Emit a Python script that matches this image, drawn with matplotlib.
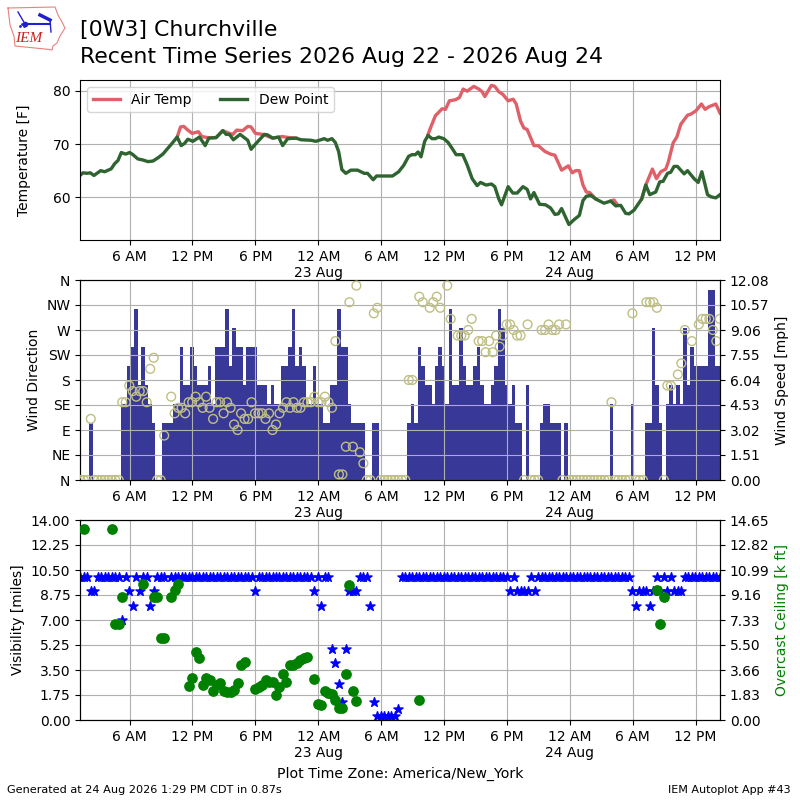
import datetime
import numpy as np
import matplotlib
matplotlib.use("Agg")
import matplotlib.pyplot as plt
import matplotlib.dates as mdates
from matplotlib.ticker import FuncFormatter

n = np.nan
midnight = datetime.datetime(2026, 8, 22)

# temperature, read at hours after 00:00 on 22 Aug
dew_hours = [1.27, 1.56, 1.94, 2.25, 2.60, 3.24, 3.62, 4.25, 4.57, 4.89, 5.21, 5.62, 6.0, 6.32, 6.79, 7.27,
             7.75, 8.22, 8.70, 9.17, 9.65, 10.13, 10.54, 10.92, 11.24, 11.56, 12.03, 12.67, 13.21, 13.56, 14.25,
             14.89, 15.21, 15.52, 15.90, 16.54, 17.27, 17.59, 18.06, 18.86, 19.17, 19.65, 20.22, 20.60, 21.08,
             21.87, 22.35, 23.30, 23.78, 24.57, 24.89, 25.30, 25.62, 25.94, 26.25, 26.63, 27.11, 27.75, 28.38,
             28.70, 29.24, 29.56, 31.08, 31.67, 32.15, 32.62, 32.94, 33.26, 33.52, 33.80, 34.15, 34.47, 34.85,
             35.17, 35.49, 35.97, 36.38, 36.76, 37.15, 37.78, 38.20, 38.68, 39.15, 39.47, 40.01, 40.52, 40.84,
             41.22, 41.48, 42.11, 42.56, 42.97, 43.52, 43.93, 44.25, 44.57, 45.11, 45.68, 46.16, 46.57, 46.89,
             47.21, 47.91, 48.39, 48.90, 49.25, 49.57, 49.98, 50.46, 51.25, 51.89, 52.37, 52.85, 53.32, 53.64,
             54.12, 54.85, 55.24, 55.62, 56.19, 56.57, 56.89, 57.31, 57.62, 57.94, 58.26, 58.90, 59.22, 59.85,
             60.24, 60.59, 61.13, 61.45, 61.92, 62.32]
dew_point = [64.1, 64.6, 64.5, 64.6, 64.1, 65.0, 64.8, 65.35, 66.3, 66.9, 68.4, 68.1, 68.4, 68.0, 67.2, 67.0,
             66.7, 66.8, 67.4, 68.1, 69.2, 70.3, 71.3, 69.7, 70.1, 70.9, 70.5, 71.3, 69.7, 71.1, 71.2,
             72.5, 71.8, 71.8, 70.8, 71.8, 70.7, 69.0, 70.1, 71.8, 71.7, 71.1, 71.3, 69.7, 71.0,
             71.1, 70.8, 70.7, 70.5, 71.0, 70.7, 71.0, 70.3, 68.6, 65.2, 64.5, 65.1, 65.1, 64.5,
             64.5, 63.3, 64.0, 64.0, 64.8, 66.0, 67.7, 68.0, 68.0, 68.5, 67.6, 70.5, 71.6, 71.0,
             71.0, 71.3, 71.0, 70.3, 69.2, 68.0, 68.0, 66.1, 63.5, 62.2, 62.8, 62.3, 62.5, 62.0,
             59.7, 58.6, 62.0, 60.8, 60.8, 62.0, 61.5, 59.7, 60.9, 58.7, 58.6, 58.0, 56.8, 56.9,
             57.9, 54.9, 55.8, 56.6, 59.4, 60.2, 60.4, 59.7, 58.9, 59.3, 58.4, 58.5, 57.0, 56.9,
             57.6, 59.7, 62.3, 60.5, 61.0, 62.9, 63.0, 64.5, 64.7, 65.8, 65.8, 64.4, 65.0, 63.5,
             62.8, 64.8, 60.5, 60.1, 59.9, 60.5]

# air temperature only where it shows above the dew point line
air_hours = [10.54, 10.86, 11.17, 11.56, 11.97, 12.57, 12.89, 13.46, 14.25, 14.89, 15.52, 15.84, 16.22, 16.79,
             17.27, 17.59, 18.0, 18.7, 19.65, 20.54, 21.24, 21.87, 22.0,
             34.47, 34.78, 35.17, 35.81, 36.13, 36.51, 37.08, 37.46, 37.82, 38.2, 38.83, 39.31, 39.63, 39.89,
             40.52, 40.84, 41.22, 41.61, 42.11, 42.59, 42.88, 43.29, 43.61, 43.93, 44.57, 44.98, 45.62, 46.16,
             46.57, 47.21, 47.85, 48.23, 48.55, 48.9, 49.25, 49.57, 49.89, 50.46, 50.6,
             51.89, 52.21, 52.53, 52.6,
             54.85, 55.24, 55.87, 56.26, 56.67, 57.15, 57.4, 57.85, 58.2, 58.58, 59.22, 59.54, 60.01, 60.55,
             60.9, 61.29, 61.92, 62.32]
air_temp = [71.3, 73.2, 73.3, 72.6, 72.0, 72.3, 71.4, 71.2, 71.2, 72.5, 72.0, 71.8, 72.6, 72.5,
            73.3, 73.2, 72.0, 71.8, 71.1, 71.4, 71.2, 71.1, n,
            71.8, 73.4, 75.3, 76.6, 76.5, 78.1, 78.3, 78.7, 80.3, 79.9, 80.8, 80.3, 79.8, 78.9,
            81.0, 80.8, 79.8, 79.3, 78.1, 78.4, 77.5, 74.3, 73.0, 72.7, 69.7, 69.7, 68.6, 68.1,
            67.9, 65.1, 65.9, 64.6, 65.0, 65.0, 62.3, 61.0, 60.9, 59.7, n,
            59.3, 59.5, 58.6, n,
            59.7, 62.3, 65.3, 63.5, 64.8, 65.3, 66.7, 70.2, 71.3, 73.7, 75.4, 75.6, 76.2, 77.5,
            76.5, 77.0, 77.5, 75.8]

# one observation every 20 minutes
wind_kt = [0, 0, 0, 3, 0, 0, 0, 0, 0, 0,
           0, 0, 4, 4, 6, 7, 9, 5, 7, 5,
           4, 3, 0, 0, 3, 3, 3, 4, 4, 7,
           5, 5, 7, 6, 5, 5, 5, 6, 4, 7,
           7, 7, 9, 6, 8, 7, 7, 5, 7, 7,
           7, 5, 5, 5, 4, 5, 4, 4, 6, 6,
           7, 9, 6, 7, 6, 4, 4, 6, 4, 4,
           3, 3, 5, 5, 9, 7, 7, 4, 3, 3,
           3, 3, 0, 0, 3, 3, 0, 0, 0, 0,
           0, 0, 0, 0, 3, 4, 3, 7, 6, 5,
           5, 4, 6, 7, 6, 4, 9, 5, 5, 8,
           6, 5, 5, 6, 7, 5, 4, 4, 5, 6,
           9, 8, 5, 4, 5, 3, 3, 0, 5, 0,
           0, 0, 3, 4, 4, 3, 3, 3, 0, 3,
           0, 0, 0, 0, 0, 0, 0, 0, 0, 0,
           0, 0, 4, 0, 0, 0, 0, 0, 4, 0,
           0, 0, 3, 3, 8, 5, 3, 0, 4, 5,
           4, 5, 4, 8, 5, 7, 6, 6, 6, 6,
           10, 10, 6, 6]
wind_dir = [0, 0, 0, 110, 0, 0, 0, 0, 0, 0,
            0, 0, 140, 140, 170, 160, 150, 160, 160, 140,
            200, 220, 0, 0, 80, n, 150, 120, 130, 130,
            120, 140, 140, 150, 140, 130, 150, 130, 110, 140,
            140, 120, 140, 130, 100, 90, 120, 110, 110, 140,
            120, 120, 120, 110, 120, 90, 100, 120, 130, 140,
            130, 140, 130, 130, 140, 140, 140, 150, 140, 140,
            150, 140, 130, 250, 10, 10, 60, 320, 60, 350,
            50, 30, 0, 0, 300, 310, 0, 0, 0, 0,
            0, 0, 0, 0, 180, 180, n, 330, 320, n,
            310, 320, 330, 310, n, 350, 290, n, 260, 260,
            260, 270, 290, n, 250, 250, 230, 250, 230, 260,
            240, 260, 280, 280, 270, 260, 260, 0, 280, 0,
            0, 0, 270, 270, 280, 270, 270, 280, 0, 280,
            0, 0, 0, 0, 0, 0, 0, 0, 0, 0,
            0, 0, 140, 0, 0, 0, 0, 0, 300, 0,
            0, 0, 320, 320, 320, 310, n, 0, 170, 170,
            n, 190, 210, 270, n, 250, n, 280, 290, 290,
            290, 270, 250, 290]
visibility = [10, 10, 10, 9, 9, 10, 10, 10, 10, 10,
              10, 10, 7, 10, 9, 8, 10, 9, 10, 10,
              8, 9, 10, 10, 10, n, 10, 10, 10, 10,
              10, 10, 10, 10, 10, 10, 10, 10, 10, 10,
              10, 10, 10, 10, 10, 10, 10, 10, 10, 10,
              9, 10, 10, 10, 10, 10, 10, 10, 10, 10,
              10, 10, 10, 10, 10, 10, 10, 9, 10, 8,
              10, 10, 5, 4, 2.5, 1.25, 5, 9, 9, 9,
              10, 10, 10, 8, 1.25, 0.25, 0.25, 0.25, 0.25, 0.25,
              0.25, 0.75, 10, 10, 10, 10, 10, 10, 10, 10,
              10, 10, 10, 10, 10, 10, 10, 10, 10, 10,
              10, 10, 10, 10, 10, 10, 10, 10, 10, 10,
              10, 10, 10, 9, 10, 9, 9, 9, 9, 10,
              9, 10, 10, 10, 10, 10, 10, 10, 10, 10,
              10, 10, 10, 10, 10, 10, 10, 10, 10, 10,
              10, 10, 10, 10, 10, 10, 10, 10, 9, 8,
              9, 9, 9, 8, 9, 10, 9, 10, 9, 10,
              9, 9, 9, 10, 10, 10, 10, 10, 10, 10,
              10, 10, 10, 10]

ceil_obs = [1, 9, 10, 11, 12, 18, 21, 22, 23, 24, 26, 27, 28, 31, 32, 33, 34, 35, 36, 37, 38, 39, 40, 41, 42, 43,
            44, 45, 46, 47, 50, 51, 52, 53, 54, 55, 56, 57, 58, 59, 60, 61, 62, 63, 64, 65, 67, 68, 69, 70, 71,
            72, 73, 74, 75, 76, 77, 78, 79, 97, 165, 166, 167]
ceil_kft = [13.97, 13.97, 7.0, 7.0, 8.99, 9.94, 8.99, 8.99, 5.98, 5.98, 8.99, 9.52, 9.96, 2.49, 3.08, 4.96, 4.57,
            2.56, 3.05, 2.93, 2.1, 2.56, 2.69, 2.1, 2.05, 2.05, 2.2, 2.69, 4.03, 4.27, 2.25, 2.44, 2.56, 2.93,
            2.81, 2.76, 1.81, 2.44, 3.35, 2.76, 4.0, 4.0, 4.2, 4.42, 4.52, 4.62, 3.0, 1.15, 1.1, 2.12, 2.0,
            1.9, 1.47, 0.85, 0.85, 3.37, 9.91, 2.1, 1.37, 1.44, 9.5, 7.0, 8.99]

dir_labels = ["N", "NE", "E", "SE", "S", "SW", "W", "NW", "N"]


def to_time(hours):
    return [midnight + datetime.timedelta(hours=float(h)) for h in hours]


def time_label(x, pos):
    d = mdates.num2date(x)
    hour = d.hour % 12
    if hour == 0:
        hour = 12
    ampm = "AM" if d.hour < 12 else "PM"
    if d.hour == 0:
        return "%d %s\n%s" % (hour, ampm, d.strftime("%d %b"))
    return "%d %s" % (hour, ampm)


def setup_time(ax):
    ax.set_xlim(to_time([1.27])[0], to_time([62.32])[0])
    ax.xaxis.set_major_locator(mdates.HourLocator(byhour=[0, 6, 12, 18]))
    ax.xaxis.set_major_formatter(FuncFormatter(time_label))
    ax.grid(True)
    # the midnight labels sit a little lower than the others
    for loc, tick in zip(ax.get_xticks(), ax.xaxis.get_major_ticks()):
        if mdates.num2date(loc).hour == 0:
            tick.set_pad(3.7)


obs_hours = 1.3 + np.arange(len(wind_kt)) / 3.0
obs_time = to_time(obs_hours)
wind_mph = np.array(wind_kt) * 1.15
bar_width = 1.0 / 72.0

fig = plt.figure(figsize=(8, 8), dpi=100)

# temperature
ax1 = fig.add_axes([0.10, 0.70, 0.80, 0.20])
ax1.plot(to_time(air_hours), air_temp, color="#df6069", lw=2.4, label="Air Temp")
ax1.plot(to_time(dew_hours), dew_point, color="#2f6431", lw=2.4, label="Dew Point")
ax1.set_ylim(52, 82)
ax1.set_yticks([60, 70, 80])
ax1.set_ylabel("Temperature [F]", labelpad=15.5)
setup_time(ax1)
ax1.legend(loc="upper left", ncol=2)

# wind, direction axis kept on top so grid and circles show over the bars
ax2 = fig.add_axes([0.10, 0.40, 0.80, 0.25])
ax2b = ax2.twinx()
ax2b.bar(obs_time, wind_mph, width=bar_width, color="#383898")
ax2b.set_ylim(0, 12.08)
ax2b.set_yticks(np.linspace(0, 12.08, 9))
ax2b.yaxis.set_major_formatter(FuncFormatter(lambda v, p: "%.2f" % v))
ax2b.set_ylabel("Wind Speed [mph]")
ax2.scatter(obs_time, wind_dir, s=40, facecolors="none", edgecolors="#bfbf85", zorder=3)
ax2.set_ylim(0, 360)
ax2.set_yticks(np.arange(0, 361, 45))
ax2.set_yticklabels(dir_labels)
ax2.set_ylabel("Wind Direction")
setup_time(ax2)
ax2.set_zorder(ax2b.get_zorder() + 1)
ax2.patch.set_visible(False)

# visibility and ceiling
ax3 = fig.add_axes([0.10, 0.10, 0.80, 0.25])
ax3.scatter(obs_time, visibility, s=48, marker="*", color="blue", zorder=3)
ax3.set_ylim(0, 14)
ax3.set_yticks(np.linspace(0, 14, 9))
ax3.yaxis.set_major_formatter(FuncFormatter(lambda v, p: "%.2f" % v))
ax3.set_ylabel("Visibility [miles]")
setup_time(ax3)
ax3.set_xlabel("Plot Time Zone: America/New_York", fontsize=10.2, labelpad=5)
ax3b = ax3.twinx()
ax3b.scatter(to_time(obs_hours[ceil_obs]), ceil_kft, s=45, color="green", zorder=3)
ax3b.set_ylim(0, 14.654)
ax3b.set_yticks(np.linspace(0, 14.654, 9))
ax3b.yaxis.set_major_formatter(FuncFormatter(lambda v, p: "%.2f" % v))
ax3b.set_ylabel("Overcast Ceiling [k ft]", color="green")

# titles
fig.text(0.10, 0.9625, "[0W3] Churchville", fontsize=15.8, va="center", ha="left")
fig.text(0.10, 0.9285, "Recent Time Series 2026 Aug 22 - 2026 Aug 24", fontsize=15.8, va="center", ha="left")
fig.text(0.009, 0.009, "Generated at 24 Aug 2026 1:29 PM CDT in 0.87s", fontsize=8.15)
fig.text(0.9885, 0.009, "IEM Autoplot App #43", fontsize=8, ha="right")

# small IEM logo
logo = fig.add_axes([0, 0.935, 0.085, 0.065])
logo.set_xlim(0, 68)
logo.set_ylim(52, 0)
logo.axis("off")
logo.plot([8, 55, 58, 62, 65, 60, 57, 53, 52, 45, 15, 14, 10, 8],
          [8, 7, 15, 22, 28, 36, 43, 46, 50, 49, 46, 36, 25, 8], color="#e88080", lw=0.8)
logo.plot([25, 50], [24, 24], color="#2020d0", lw=1.5)
logo.plot([25], [24], "o", color="#2020d0", ms=3)
logo.plot([18, 25], [12, 24], color="#2020d0", lw=1)
logo.plot([40, 50], [15, 20], color="#2020d0", lw=2.5)
logo.plot([50, 51], [20, 32], color="#2020d0", lw=1)
logo.plot([20, 22, 24], [26, 24, 26], ".", color="#2020d0", ms=2)
logo.text(29, 38, "IEM", color="#d02020", fontsize=11, family="Liberation Serif",
          style="italic", ha="center", va="center")

fig.savefig("out.png", dpi=100)
